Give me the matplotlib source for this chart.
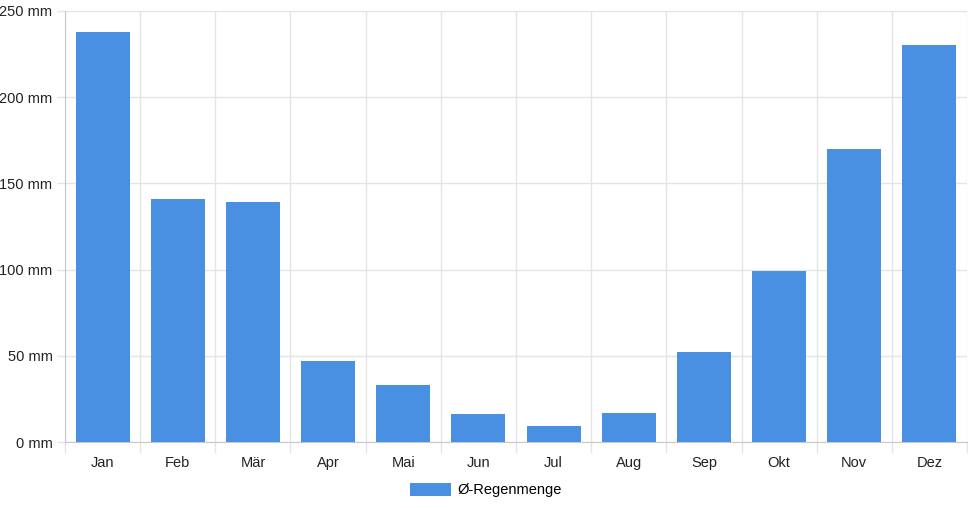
import numpy as np
import matplotlib
matplotlib.use("Agg")
import matplotlib.pyplot as plt
from matplotlib.patches import Patch

plt.rcParams['font.family'] = ['Liberation Sans', 'DejaVu Sans']

months = ["Jan", "Feb", "Mär", "Apr", "Mai", "Jun", "Jul", "Aug", "Sep", "Okt", "Nov", "Dez"]
rain_mm = [238, 141, 139, 47, 33, 16, 9, 17, 52, 99, 170, 230]
y_ticks = [0, 50, 100, 150, 200, 250]
series_label = "Ø-Regenmenge"

bar_color = "#4a90e2"
grid_color = "#e5e5e5"
axis_color = "#c8c8c8"

W, H = 968, 508
fig = plt.figure(figsize=(W / 100, H / 100), dpi=100)
ax = fig.add_axes([65 / W, (H - 442) / H, (967 - 65) / W, (442 - 11) / H])

x = np.arange(len(months))
ax.bar(x, rain_mm, width=0.72, color=bar_color, edgecolor="none", zorder=3)

ax.set_xlim(-0.5, len(months) - 0.5)
ax.set_ylim(0, 250)

# category boundaries as grid lines
ax.set_xticks(np.arange(-0.5, len(months), 1.0), minor=False)
ax.set_xticklabels([])
ax.set_xticks(x, minor=True)
ax.set_xticklabels(months, minor=True)
ax.tick_params(axis="x", which="major", length=8, color=grid_color, width=1)
ax.tick_params(axis="x", which="minor", length=0, pad=10, labelsize=10.5, labelcolor="#222222")

ax.set_yticks(y_ticks)
ax.set_yticklabels([f"{v} mm" for v in y_ticks])
ax.tick_params(axis="y", length=6, color=grid_color, width=1, pad=3, labelsize=10.5, labelcolor="#222222")

ax.grid(True, which="major", color=grid_color, linewidth=1, zorder=0)
for s in ["top", "right"]:
    ax.spines[s].set_visible(False)
ax.spines["left"].set_color(axis_color)
ax.spines["bottom"].set_color(axis_color)

handle = Patch(facecolor=bar_color, edgecolor="none", label=series_label)
fig.legend(handles=[handle], loc="center", bbox_to_anchor=(486 / W, 1 - 490 / H),
           frameon=False, fontsize=10.5, handlelength=2.75, handleheight=1.05,
           handletextpad=0.45)

fig.savefig("out.png", dpi=100)
